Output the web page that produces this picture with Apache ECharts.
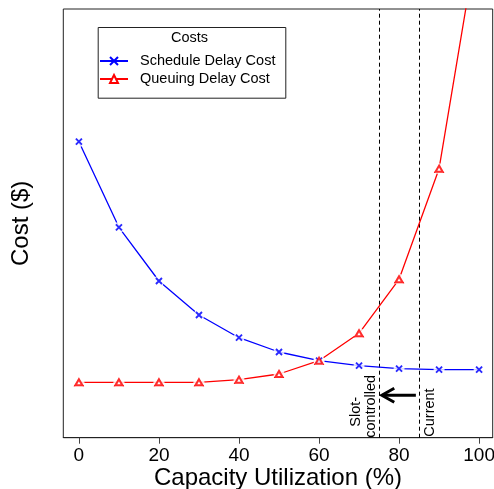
<!DOCTYPE html>
<html>
<head>
<meta charset="utf-8">
<script src="https://cdn.jsdelivr.net/npm/echarts@6/dist/echarts.min.js"></script>
<style>
html,body{margin:0;padding:0;background:#fff;}
#chart{width:494px;height:489px;}
</style>
</head>
<body>
<div id="chart"></div>
<script>
// ---- data ----
const utilization = [0, 10, 20, 30, 40, 50, 60, 70, 80, 90, 100];
const scheduleDelayCost = [296, 210.4, 156.7, 122.7, 100, 85.7, 77, 72, 69, 68, 68];
const queuingDelayCost = [55.4, 55.4, 55.4, 55.4, 58, 63.7, 77, 104.4, 158.4, 269, 508.5];
const xTickValues = [0, 20, 40, 60, 80, 100];
const slotControlled = 75;
const currentLevel = 85;
const arrowShaft = [[84.2, 42.5], [75.9, 42.5]];
const arrowHead = [[78.8, 49.5], [75.7, 42.5], [78.8, 35.5]];

const FONT = "'Liberation Sans', Arial, Helvetica, sans-serif";
const pairs = (ys) => utilization.map((x, i) => [x, ys[i]]);
const xSymbol = 'path://M0,0L10,10M10,0L0,10';

const chart = echarts.init(document.getElementById('chart'), null, {renderer: 'canvas'});
const option = {
  animation: false,
  backgroundColor: '#fff',
  textStyle: {fontFamily: FONT},
  grid: {left: 63.3, right: 1.3, top: 9, bottom: 51.3, show: true, borderColor: '#222', borderWidth: 1,
         containLabel: false, outerBoundsMode: 'none'},
  xAxis: {
    type: 'value', min: -3.9, max: 103.4,
    name: 'Capacity Utilization (%)', nameLocation: 'middle', nameGap: 29, nameMoveOverlap: false,
    nameTextStyle: {fontSize: 24, color: '#000', fontFamily: FONT},
    axisLine: {show: true, onZero: false, lineStyle: {color: '#222'}},
    axisTick: {show: true, customValues: xTickValues, length: 6, lineStyle: {color: '#444'}},
    axisLabel: {show: true, customValues: xTickValues, fontSize: 19, color: '#000', margin: 9, fontFamily: FONT},
    splitLine: {show: false}
  },
  yAxis: {
    type: 'value', min: 0, max: 428.7,
    name: 'Cost ($)', nameLocation: 'middle', nameGap: 30, nameMoveOverlap: false,
    nameTextStyle: {fontSize: 24, color: '#000', fontFamily: FONT},
    axisLine: {show: false, onZero: false},
    axisTick: {show: false}, axisLabel: {show: false}, splitLine: {show: false}
  },
  legend: {
    orient: 'vertical', left: 99, top: 53.5, padding: 0, itemGap: 3,
    itemWidth: 28, itemHeight: 10,
    data: ['Schedule Delay Cost', 'Queuing Delay Cost'],
    textStyle: {fontSize: 14.5, color: '#000', lineHeight: 15, padding: [0, 0, 0, 7], fontFamily: FONT}
  },
  graphic: [
    {type: 'rect', left: 95.7, top: 25, shape: {width: 187.6, height: 70.7}, style: {fill: 'none', stroke: '#222', lineWidth: 1}, z: 1},
    {type: 'text', x: 189.5, y: 38.3, style: {text: 'Costs', fontSize: 14.5, fontFamily: FONT, fill: '#000', align: 'center', verticalAlign: 'middle'}}
  ],
  series: [
    {
      name: 'Schedule Delay Cost', type: 'line', z: 2, data: pairs(scheduleDelayCost),
      symbol: xSymbol, symbolSize: 6,
      itemStyle: {color: 'none', borderColor: '#0000ff', borderWidth: 1.8},
      lineStyle: {color: '#0000ff', width: 1.3},
      markLine: {
        silent: true, symbol: 'none', z: 1,
        lineStyle: {color: '#000', width: 1, type: [4, 3]},
        label: {fontSize: 14.5, color: '#000', fontFamily: FONT},
        data: [
          {xAxis: slotControlled, label: {position: 'insideStartTop', distance: [0, 1],
            formatter: '{a|Slot-}\n{b|controlled}',
            rich: {a: {fontSize: 14.5, padding: [0, 0, 0, 11], fontFamily: FONT}, b: {fontSize: 14.5, fontFamily: FONT}}}},
          {xAxis: currentLevel, label: {position: 'insideStartBottom', distance: [1, 3], formatter: 'Current'}}
        ]
      }
    },
    {
      name: 'Queuing Delay Cost', type: 'line', z: 2, data: pairs(queuingDelayCost),
      symbol: 'emptyTriangle', symbolSize: [7, 6],
      itemStyle: {color: '#ff0000', borderColor: '#ff0000', borderWidth: 1.5},
      lineStyle: {color: '#ff0000', width: 1.3}
    },
    // white gaps around points (type "b" look)
    {type: 'scatter', z: 3, silent: true, clip: true, data: pairs(scheduleDelayCost), symbol: 'circle', symbolSize: 11, itemStyle: {color: '#fff'}},
    {type: 'scatter', z: 3, silent: true, clip: true, data: pairs(queuingDelayCost), symbol: 'circle', symbolSize: 11, itemStyle: {color: '#fff'}},
    {type: 'scatter', z: 4, silent: true, clip: true, data: pairs(scheduleDelayCost), symbol: xSymbol, symbolSize: 6,
      itemStyle: {color: 'none', borderColor: '#0000ff', borderWidth: 1.8}},
    {type: 'scatter', z: 4, silent: true, clip: true, data: pairs(queuingDelayCost), symbol: 'emptyTriangle', symbolSize: [7, 6],
      itemStyle: {color: '#ff0000', borderColor: '#ff0000', borderWidth: 1.5}},
    // arrow annotation
    {type: 'line', z: 5, silent: true, data: arrowShaft, symbol: 'none', lineStyle: {color: '#000', width: 3}},
    {type: 'line', z: 5, silent: true, data: arrowHead, symbol: 'none', lineStyle: {color: '#000', width: 3, join: 'miter'}}
  ]
};
chart.setOption(option);
</script>
</body>
</html>
